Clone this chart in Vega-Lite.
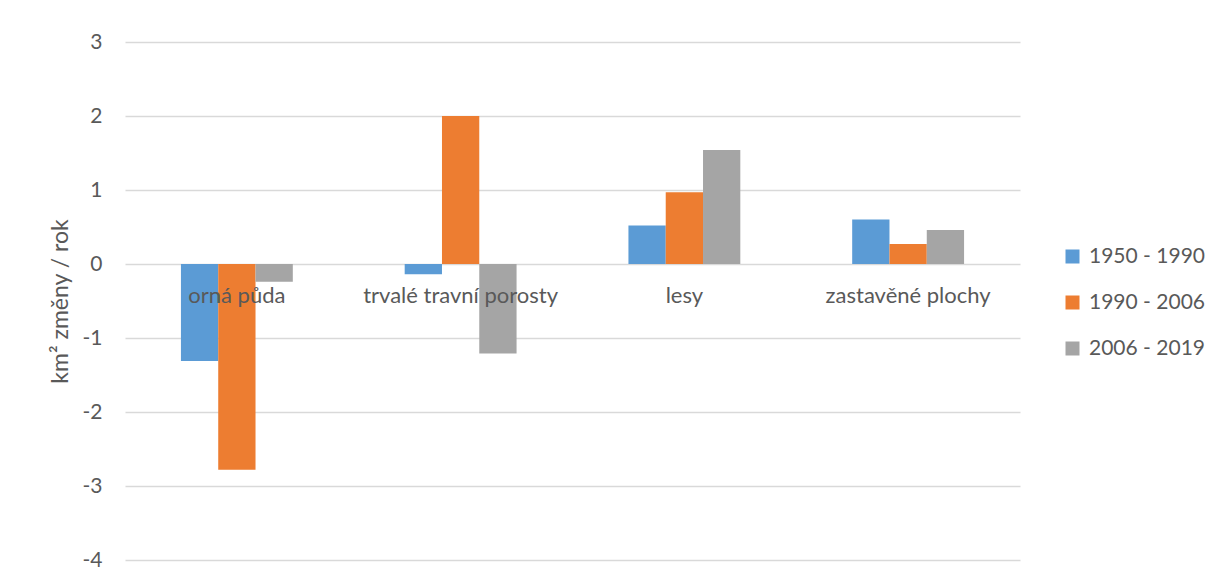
{
  "$schema": "https://vega.github.io/schema/vega-lite/v6.json",
  "autosize": {"type": "none"},
  "width": 895,
  "height": 518,
  "padding": {"left": 125, "top": 42, "right": 190, "bottom": 20},
  "background": "white",
  "config": {
    "font": "Lato",
    "view": {"stroke": null},
    "axis": {"labelFont": "Lato", "titleFont": "Lato", "labelColor": "#595959", "titleColor": "#595959"}
  },
  "data": {
    "values": [
      {"kategorie": "orná půda", "obdobi": "1950 - 1990", "zmena": -1.31},
      {"kategorie": "orná půda", "obdobi": "1990 - 2006", "zmena": -2.78},
      {"kategorie": "orná půda", "obdobi": "2006 - 2019", "zmena": -0.24},
      {"kategorie": "trvalé travní porosty", "obdobi": "1950 - 1990", "zmena": -0.14},
      {"kategorie": "trvalé travní porosty", "obdobi": "1990 - 2006", "zmena": 2.0},
      {"kategorie": "trvalé travní porosty", "obdobi": "2006 - 2019", "zmena": -1.21},
      {"kategorie": "lesy", "obdobi": "1950 - 1990", "zmena": 0.52},
      {"kategorie": "lesy", "obdobi": "1990 - 2006", "zmena": 0.97},
      {"kategorie": "lesy", "obdobi": "2006 - 2019", "zmena": 1.54},
      {"kategorie": "zastavěné plochy", "obdobi": "1950 - 1990", "zmena": 0.6},
      {"kategorie": "zastavěné plochy", "obdobi": "1990 - 2006", "zmena": 0.27},
      {"kategorie": "zastavěné plochy", "obdobi": "2006 - 2019", "zmena": 0.46}
    ]
  },
  "encoding": {
    "x": {
      "field": "kategorie",
      "type": "nominal",
      "sort": ["orná půda", "trvalé travní porosty", "lesy", "zastavěné plochy"],
      "scale": {"paddingInner": 0.5, "paddingOuter": 0.25},
      "axis": null
    }
  },
  "layer": [
    {
      "mark": {"type": "bar"},
      "encoding": {
        "xOffset": {"field": "obdobi", "type": "nominal", "scale": {"paddingInner": 0, "paddingOuter": 0}},
        "y": {
          "field": "zmena",
          "type": "quantitative",
          "scale": {"domain": [-4, 3], "nice": false, "zero": true},
          "axis": {
            "values": [-4, -3, -2, -1, 0, 1, 2, 3],
            "labelExpr": "'' + datum.value",
            "title": "km² změny / rok",
            "titleFontSize": 23,
            "titleFontWeight": "normal",
            "titlePadding": 10,
            "labelFontSize": 21,
            "labelPadding": 23,
            "domain": false,
            "ticks": false,
            "grid": true,
            "gridColor": "#D9D9D9",
            "gridWidth": 1.3
          }
        },
        "color": {
          "field": "obdobi",
          "type": "nominal",
          "scale": {"domain": ["1950 - 1990", "1990 - 2006", "2006 - 2019"], "range": ["#5B9BD5", "#ED7D31", "#A5A5A5"]},
          "legend": {
            "title": null,
            "orient": "none",
            "legendX": 937,
            "legendY": 204,
            "symbolType": "square",
            "symbolSize": 196,
            "symbolStrokeWidth": 0,
            "labelFontSize": 21,
            "labelColor": "#595959",
            "labelFont": "Lato",
            "labelOffset": 6,
            "rowPadding": 24
          }
        }
      }
    },
    {
      "transform": [{"filter": "datum.obdobi === '1950 - 1990'"}],
      "mark": {"type": "text", "fontSize": 22, "color": "#595959", "baseline": "middle", "dy": 32},
      "encoding": {
        "y": {"datum": 0},
        "text": {"field": "kategorie"}
      }
    }
  ]
}
